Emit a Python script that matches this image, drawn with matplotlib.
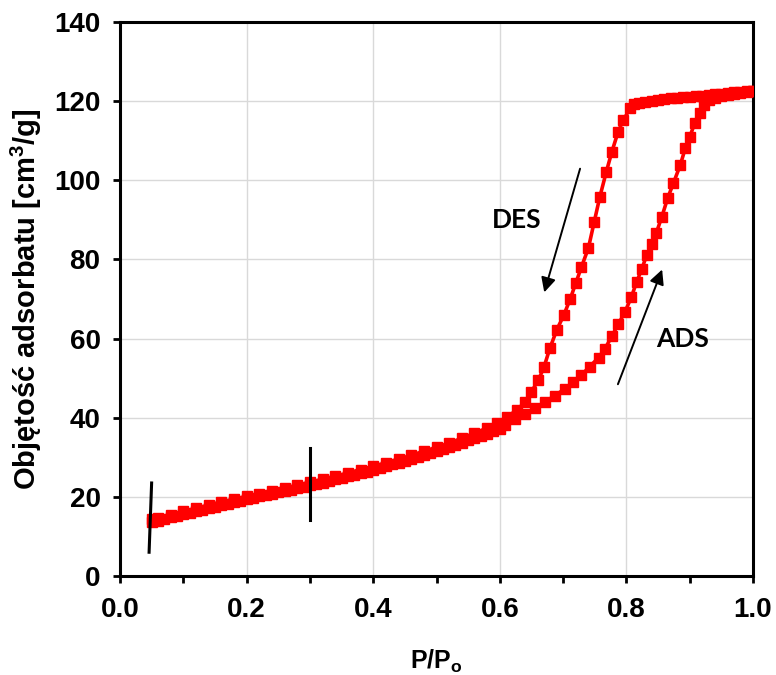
import numpy as np
import matplotlib
matplotlib.use('Agg')
import matplotlib.pyplot as plt

# adsorption branch (P/Po, cm3/g)
ads_x = [0.05, 0.06, 0.07, 0.08, 0.09, 0.10, 0.11, 0.12, 0.13, 0.14, 0.15, 0.16, 0.17, 0.18, 0.19,
         0.20, 0.21, 0.22, 0.23, 0.24, 0.25, 0.26, 0.27, 0.28, 0.29, 0.30, 0.31, 0.32, 0.33, 0.34,
         0.35, 0.36, 0.37, 0.38, 0.39, 0.40, 0.41, 0.42, 0.43, 0.44, 0.45, 0.46, 0.47, 0.48, 0.49,
         0.50, 0.51, 0.52, 0.53, 0.54, 0.55, 0.56, 0.57, 0.58, 0.59, 0.60,
         0.608, 0.624, 0.640, 0.656, 0.671, 0.687, 0.703, 0.716, 0.729, 0.742, 0.756, 0.766, 0.777,
         0.787, 0.798, 0.808, 0.816, 0.824, 0.832, 0.840, 0.847, 0.856, 0.865, 0.874, 0.885, 0.893,
         0.900, 0.908, 0.916, 0.922, 0.930, 0.94, 0.95, 0.96, 0.97, 0.98, 0.99, 1.00]
ads_y = [13.6, 14.0, 14.4, 14.8, 15.2, 15.6, 16.0, 16.4, 16.8, 17.1, 17.5, 17.9, 18.3, 18.7, 19.0,
         19.4, 19.7, 20.1, 20.4, 20.8, 21.1, 21.5, 21.8, 22.2, 22.5, 22.9, 23.2, 23.6, 24.0, 24.4,
         24.8, 25.2, 25.6, 26.0, 26.4, 26.9, 27.3, 27.7, 28.2, 28.6, 29.1, 29.6, 30.1, 30.6, 31.1,
         31.6, 32.1, 32.6, 33.2, 33.7, 34.3, 34.8, 35.4, 36.0, 36.6, 37.2,
         38.2, 39.6, 41.0, 42.5, 43.9, 45.6, 47.3, 49.0, 50.8, 52.9, 55.2, 57.4, 60.6,
         63.6, 66.8, 70.6, 74.2, 77.5, 81.0, 84.0, 86.6, 90.8, 95.4, 99.2, 103.8, 108.1,
         111.0, 114.4, 116.9, 119.0, 120.3, 120.8, 121.2, 121.5, 121.8, 122.1, 122.3, 122.5]

# desorption branch
des_x = [1.00, 0.99, 0.98, 0.97, 0.96, 0.95, 0.94, 0.93, 0.92, 0.91, 0.90, 0.89, 0.88, 0.87, 0.86,
         0.85, 0.84, 0.83, 0.82, 0.812, 0.806, 0.795, 0.787, 0.777, 0.768, 0.758, 0.749, 0.740,
         0.729, 0.720, 0.711, 0.701, 0.690, 0.679, 0.670, 0.661, 0.650, 0.640, 0.627, 0.611, 0.595,
         0.58, 0.56, 0.54, 0.52, 0.50, 0.48, 0.46, 0.44, 0.42, 0.40, 0.38, 0.36, 0.34, 0.32, 0.30,
         0.28, 0.26, 0.24, 0.22, 0.20, 0.18, 0.16, 0.14, 0.12, 0.10, 0.08, 0.06, 0.05]
des_y = [122.6, 122.5, 122.3, 122.2, 122.0, 121.9, 121.7, 121.6, 121.4, 121.3, 121.1, 121.0, 120.8, 120.7, 120.5,
         120.3, 120.1, 119.9, 119.6, 119.2, 118.2, 115.2, 112.3, 107.2, 102.0, 95.8, 89.4, 82.9,
         78.1, 74.0, 69.9, 65.9, 62.2, 57.5, 52.9, 49.5, 46.6, 44.0, 41.9, 40.2, 38.6,
         37.4, 36.1, 34.8, 33.6, 32.5, 31.5, 30.5, 29.5, 28.6, 27.7, 26.9, 26.0, 25.2, 24.4, 23.7,
         22.9, 22.2, 21.5, 20.8, 20.1, 19.4, 18.7, 17.9, 17.1, 16.3, 15.5, 14.7, 14.3]

# short black marks on the curve
mark_x = [[0.050, 0.046], [0.300, 0.300]]
mark_y = [[23.5, 6.0], [32.3, 14.1]]

plt.rcParams['font.family'] = 'Liberation Sans'
plt.rcParams['font.weight'] = 'bold'
plt.rcParams['mathtext.fontset'] = 'custom'
plt.rcParams['mathtext.rm'] = 'Liberation Sans:bold'

fig = plt.figure(figsize=(7.76, 6.75), dpi=100)
ax = fig.add_axes([0.1546, 0.1467, 0.9704 - 0.1546, 0.9674 - 0.1467])

ax.plot(ads_x, ads_y, color='#ff0000', lw=2.6, marker='s', ms=6.5, zorder=3)
ax.plot(des_x, des_y, color='#ff0000', lw=2.6, marker='s', ms=6.5, zorder=3)

for mx, my in zip(mark_x, mark_y):
    ax.plot(mx, my, color='black', lw=2.2, zorder=4)

# arrows + labels
ax.annotate('', xy=(0.669, 71.0), xytext=(0.728, 103.6),
            arrowprops=dict(arrowstyle='-|>', color='black', lw=1.4, mutation_scale=22))
ax.annotate('', xy=(0.858, 78.1), xytext=(0.785, 47.8),
            arrowprops=dict(arrowstyle='-|>', color='black', lw=1.4, mutation_scale=22))
ax.text(0.626, 90, 'DES', family='Lato', fontweight='bold', fontsize=19, ha='center', va='center')
ax.text(0.889, 60, 'ADS', family='Lato', fontweight='bold', fontsize=19, ha='center', va='center')

ax.set_xlim(0, 1)
ax.set_ylim(0, 140)
ax.set_xticks(np.arange(0, 1.01, 0.2))
ax.set_xticks(np.arange(0.1, 1.0, 0.2), minor=True)
ax.set_yticks(np.arange(0, 141, 20))
ax.set_xticklabels(['%.1f' % v for v in np.arange(0, 1.01, 0.2)])
ax.grid(True, which='major', color='#d9d9d9', lw=1.0)
ax.set_axisbelow(True)

for s in ax.spines.values():
    s.set_linewidth(2.2)
ax.tick_params(which='major', direction='out', length=5, width=2, labelsize=20)
ax.tick_params(axis='x', which='minor', direction='out', length=5, width=2)
ax.tick_params(axis='x', which='major', pad=10)
ax.tick_params(axis='y', which='major', pad=9)

ax.set_xlabel('P/P$_\\mathrm{o}$', fontsize=18, fontweight='bold', labelpad=18)
ax.set_ylabel('Objętość adsorbatu [cm$^\\mathrm{3}$/g]', fontsize=21, fontweight='bold', labelpad=7)

fig.savefig('out.png', dpi=100)
